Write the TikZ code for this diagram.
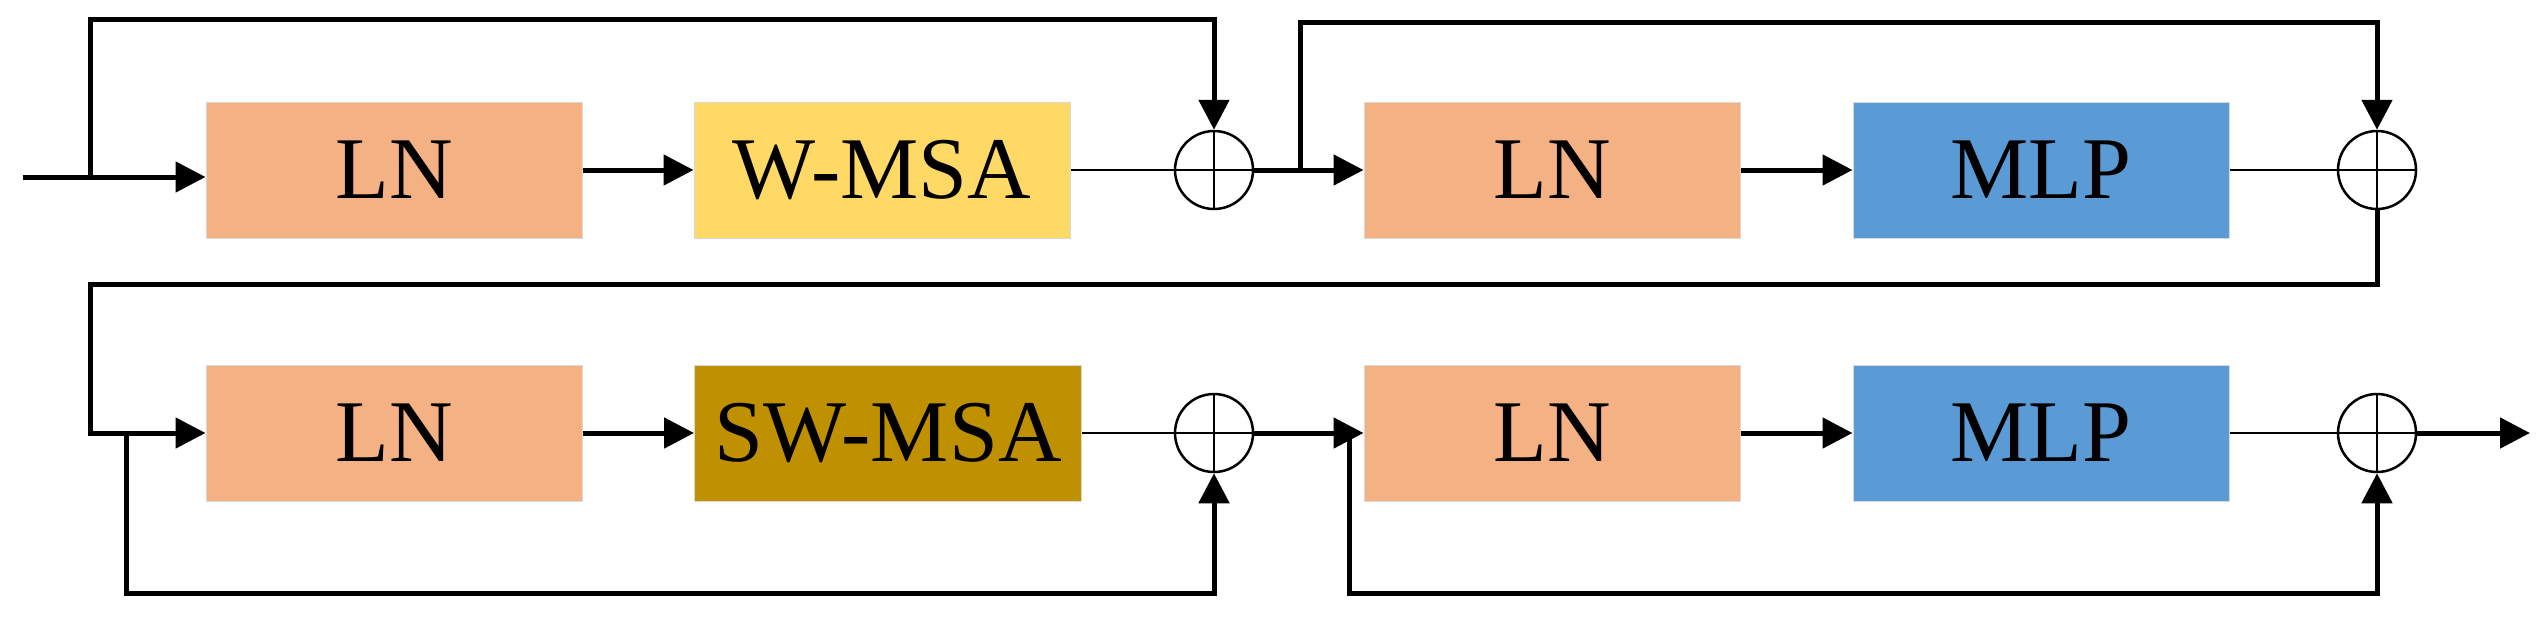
\documentclass[tikz,border=0pt]{standalone}
\usepackage{fontspec}
\setmainfont{Liberation Serif}
\usetikzlibrary{arrows.meta}
\definecolor{ln}{HTML}{F4B183}
\definecolor{wm}{HTML}{FFD966}
\definecolor{sw}{HTML}{BF9000}
\definecolor{mlp}{HTML}{5B9BD5}
\begin{document}
\begin{tikzpicture}[x=1pt,y=-1pt,
  box/.style={draw=black!15,line width=1pt,minimum width=376pt,minimum height=136pt,inner sep=0pt,font=\fontsize{88}{88}\selectfont},
  plus/.style={draw,circle,line width=2.5pt,minimum size=78pt,inner sep=0pt,path picture={\draw[line width=2.5pt] (path picture bounding box.north) -- (path picture bounding box.south) (path picture bounding box.west) -- (path picture bounding box.east);}},
  ln/.style={line width=5pt},
  arr/.style={line width=5pt,-{Triangle[length=30pt,width=30pt]}},
  thin/.style={line width=2.5pt}]
\useasboundingbox (0,0) rectangle (2548,622);
\node[box,fill=ln] (ln1) at (394,170) {LN};
\node[box,fill=wm] (wm) at (882,170) {W-MSA};
\node[plus] (p1) at (1214,170) {};
\node[box,fill=ln] (ln2) at (1552,170) {LN};
\node[box,fill=mlp] (mlp1) at (2041,170) {MLP};
\node[plus] (p2) at (2377,170) {};
\node[box,fill=ln] (ln3) at (394,433) {LN};
\node[box,fill=sw,minimum width=387pt] (sw) at (888,433) {SW-MSA};
\node[plus] (p3) at (1214,433) {};
\node[box,fill=ln] (ln4) at (1552,433) {LN};
\node[box,fill=mlp] (mlp2) at (2041,433) {MLP};
\node[plus] (p4) at (2377,433) {};
\coordinate (in) at (23,177);
\coordinate (out) at (2530,433);
% row 1
\draw[arr] (in) -- (ln1.west|-in);
\draw[arr] (90,177) -- (90,19) -| (p1.north);
\draw[arr] (ln1) -- (wm);
\draw[thin] (wm) -- (p1);
\draw[arr] (p1.east) -- (ln2.west);
\draw[arr] (1300,170) -- (1300,22) -| (p2.north);
\draw[arr] (ln2) -- (mlp1);
\draw[thin] (mlp1) -- (p2);
\draw[arr] (p2.south) -- (2377,284) -- (90,284) -- (90,433) -- (ln3.west);
% row 2
\draw[arr] (126,433) -- (126,593) -| (p3.south);
\draw[arr] (ln3) -- (sw);
\draw[thin] (sw) -- (p3);
\draw[arr] (p3.east) -- (ln4.west);
\draw[arr] (1349,433) -- (1349,593) -| (p4.south);
\draw[arr] (ln4) -- (mlp2);
\draw[thin] (mlp2) -- (p4);
\draw[arr] (p4.east) -- (out);
\end{tikzpicture}
\end{document}
